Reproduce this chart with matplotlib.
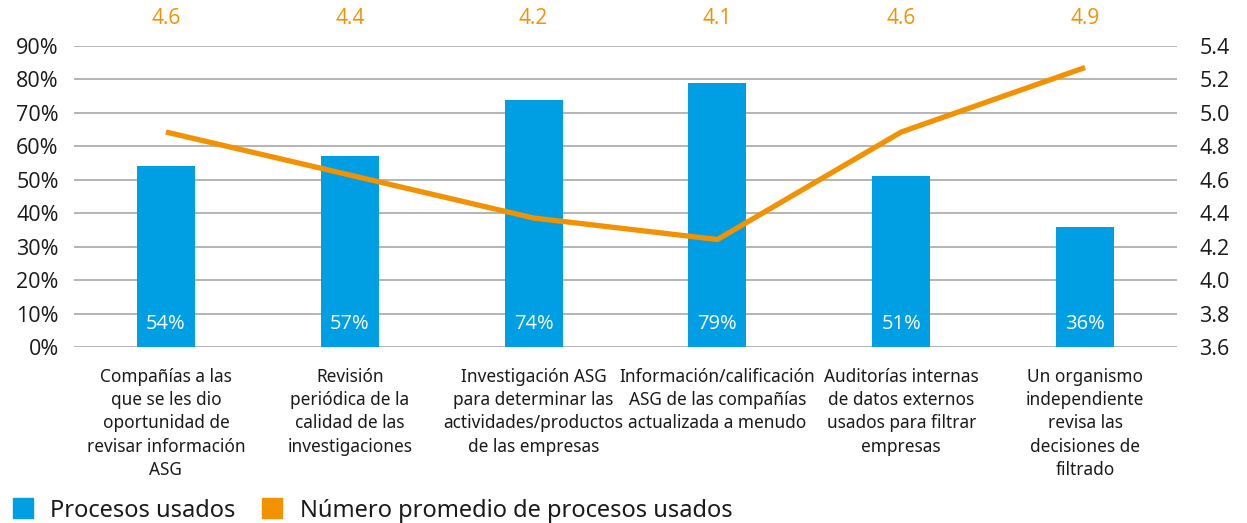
import matplotlib
matplotlib.use("Agg")
import matplotlib.pyplot as plt
import matplotlib.transforms as mtransforms
from matplotlib.lines import Line2D
import numpy as np

categories = [
    "Compañías a las\nque se les dio\noportunidad de\nrevisar información\nASG",
    "Revisión\nperiódica de la\ncalidad de las\ninvestigaciones",
    "Investigación ASG\npara determinar las\nactividades/productos\nde las empresas",
    "Información/calificación\nASG de las compañías\nactualizada a menudo",
    "Auditorías internas\nde datos externos\nusados para filtrar\nempresas",
    "Un organismo\nindependiente\nrevisa las\ndecisiones de\nfiltrado",
]
procesos_usados = [54, 57, 74, 79, 51, 36]
numero_promedio = [4.6, 4.4, 4.2, 4.1, 4.6, 4.9]
left_ticks = [0, 10, 20, 30, 40, 50, 60, 70, 80, 90]
right_ticks = [3.6, 3.8, 4.0, 4.2, 4.4, 4.6, 4.8, 5.0, 5.2, 5.4]

BLUE = "#009FE3"
ORANGE = "#F39200"
GRID = "#b4b4b4"
TXT = "#1a1a1a"
TICKFONT = "Open Sans"
LABFONT = "Noto Sans"

fig = plt.figure(figsize=(12.47, 5.23), dpi=100)
ax = fig.add_axes([74/1247, 1-347/523, (1177-74)/1247, (347-46)/523])
x = np.arange(len(categories))

ax.set_xlim(-0.5, len(categories)-0.5)
ax.set_ylim(0, 90)
ax.set_yticks(left_ticks)
ax.set_yticklabels([f"{t}%" for t in left_ticks], fontsize=15.5, color=TXT, family=TICKFONT)
ax.tick_params(axis="y", length=0, pad=11)
ax.yaxis.grid(True, color=GRID, linewidth=1.4)
ax.set_axisbelow(True)
for s in ax.spines.values():
    s.set_visible(False)

bars = ax.bar(x, procesos_usados, width=0.316, color=BLUE, zorder=2)
for xi, v in zip(x, procesos_usados):
    ax.text(xi, 7.0, f"{v}%", ha="center", va="center", color="white",
            fontsize=14.5, family=TICKFONT, zorder=3)

ax.set_xticks(x)
ax.set_xticklabels(categories, fontsize=12.4, color=TXT, family=LABFONT, linespacing=1.38)
ax.tick_params(axis="x", length=0, pad=15)

ax2 = ax.twinx()
ax2.set_ylim(3.6, 5.4)
ax2.set_yticks(right_ticks)
ax2.set_yticklabels([f"{t:.1f}" for t in right_ticks], fontsize=15.5, color=TXT, family=TICKFONT)
ax2.tick_params(axis="y", length=0, pad=16)
for s in ax2.spines.values():
    s.set_visible(False)

ax3 = ax.twinx()
ax3.set_ylim(3.6, 5.0)
ax3.axis("off")
ax3.plot(x, numero_promedio, color=ORANGE, linewidth=3.8, solid_capstyle="butt", zorder=4)

trans = mtransforms.blended_transform_factory(ax.transData, fig.transFigure)
for xi, v in zip(x, numero_promedio):
    ax.text(xi, 1-19/523, f"{v:.1f}", transform=trans, ha="center", va="center",
            color=ORANGE, fontsize=15, family=TICKFONT)

handles = [
    Line2D([], [], marker="s", linestyle="none", markersize=14, color=BLUE),
    Line2D([], [], marker="s", linestyle="none", markersize=14, color=ORANGE),
]
fig.legend(handles, ["Procesos usados", "Número promedio de procesos usados"],
           loc="lower left", bbox_to_anchor=(-10/1247, -21/523), ncol=2, frameon=False,
           prop={"family": LABFONT, "size": 17}, handletextpad=0.66, columnspacing=1.05,
           handlelength=1.0, labelcolor=TXT)

fig.savefig("out.png", dpi=100)
